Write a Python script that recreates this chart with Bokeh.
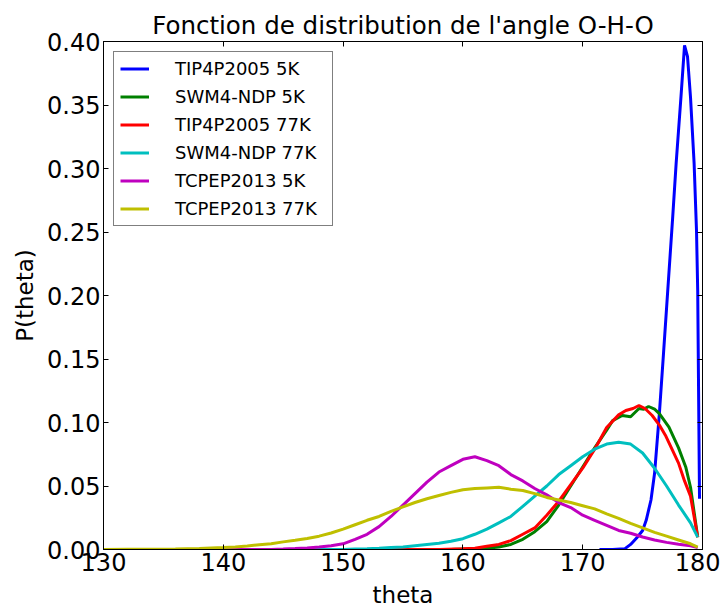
from bokeh.plotting import figure
from bokeh.models import (Legend, LegendItem, LinearAxis, FixedTicker, Range1d,
                          PrintfTickFormatter, CustomJSTickFormatter)
from bokeh.embed import file_html
from bokeh.resources import INLINE

# ---------------- data ----------------
theta_tip_5 = [171.4, 172.5, 173.5, 174.0, 174.5, 175.0, 175.3, 175.7, 176.0, 176.4,
               176.75, 177.1, 177.5, 177.8, 178.2, 178.5, 178.75, 179.0, 179.3, 179.5,
               179.6, 179.75]
p_tip_5 = [0.0, 0.0, 0.0005, 0.004, 0.009, 0.015, 0.023, 0.039, 0.060, 0.107,
           0.155, 0.204, 0.260, 0.304, 0.356, 0.397, 0.388, 0.356, 0.304, 0.251,
           0.204, 0.040]

theta_swm_5 = [130, 140, 150, 159, 160, 161, 162, 163, 164, 165, 166, 167, 168, 169, 170,
               171, 172, 172.5, 173.3, 174.0, 174.7, 175.1, 175.5, 176.0, 176.4, 177.2,
               178.0, 178.6, 179.0, 179.6]
p_swm_5 = [0.0, 0.0, 0.0, 0.0, 0.0003, 0.0006, 0.001, 0.002, 0.004, 0.008, 0.014, 0.022,
           0.035, 0.050, 0.065, 0.080, 0.094, 0.1015, 0.1055, 0.1045, 0.111, 0.1105,
           0.1126, 0.1105, 0.107, 0.0963, 0.080, 0.065, 0.049, 0.0097]

theta_tip_77 = [130, 140, 150, 158, 160, 161, 162, 163, 164, 165, 166, 167, 168, 169, 170,
                171, 172, 173, 173.6, 174.2, 174.7, 175.2, 175.8, 176.4, 176.9, 177.5,
                178.0, 178.5, 179.0, 179.6]
p_tip_77 = [0.0, 0.0, 0.0, 0.0, 0.0005, 0.001, 0.0025, 0.004, 0.007, 0.012, 0.017, 0.027,
            0.038, 0.051, 0.064, 0.079, 0.096, 0.106, 0.1094, 0.111, 0.1134, 0.111,
            0.1055, 0.098, 0.090, 0.078, 0.068, 0.054, 0.042, 0.0097]

theta_swm_77 = [130, 140, 150, 151, 152, 153, 154, 155, 156, 157, 158, 159, 160, 161, 162,
                163, 164, 165, 166, 167, 168, 169, 170, 171, 172, 173, 174, 175, 176, 177,
                178, 179, 179.6]
p_swm_77 = [0.0, 0.0, 0.0, 0.0003, 0.0006, 0.001, 0.0015, 0.002, 0.003, 0.004, 0.005,
            0.0065, 0.0085, 0.012, 0.016, 0.021, 0.026, 0.034, 0.042, 0.050, 0.059, 0.066,
            0.073, 0.079, 0.083, 0.0845, 0.083, 0.076, 0.064, 0.050, 0.035, 0.021, 0.0097]

theta_tcp_5 = [130, 140, 144, 145, 146, 147, 148, 149, 150, 151, 152, 153, 154, 155, 156,
               157, 158, 159, 160, 161, 162, 163, 164, 165, 166, 167, 168, 169, 170, 171,
               172, 173, 174, 175, 176, 177, 178, 179, 179.6]
p_tcp_5 = [0.0, 0.0, 0.0, 0.0003, 0.0007, 0.0012, 0.002, 0.003, 0.0045, 0.008, 0.012,
           0.018, 0.026, 0.035, 0.044, 0.053, 0.061, 0.066, 0.071, 0.073, 0.070, 0.066,
           0.059, 0.054, 0.048, 0.043, 0.037, 0.033, 0.027, 0.023, 0.019, 0.015, 0.0128,
           0.0098, 0.0075, 0.0056, 0.0042, 0.003, 0.0015]

theta_tcp_77 = [130, 132, 134, 136, 138, 140, 141, 142, 143, 144, 145, 146, 147, 148, 149,
                150, 151, 152, 153, 154, 155, 156, 157, 158, 159, 160, 161, 162, 163, 164,
                165, 166, 167, 168, 169, 170, 171, 172, 173, 174, 175, 176, 177, 178, 179,
                179.6]
p_tcp_77 = [0.0, 0.0001, 0.0002, 0.0004, 0.0008, 0.0015, 0.002, 0.0028, 0.0037, 0.0045,
            0.006, 0.0073, 0.0087, 0.0105, 0.013, 0.016, 0.0195, 0.023, 0.026, 0.030,
            0.0335, 0.037, 0.040, 0.0425, 0.045, 0.047, 0.048, 0.0485, 0.049, 0.0475,
            0.0465, 0.044, 0.041, 0.039, 0.037, 0.0345, 0.032, 0.028, 0.0245, 0.0205,
            0.017, 0.0135, 0.0105, 0.0075, 0.0045, 0.0018]

series_names = ["TIP4P2005 5K", "SWM4-NDP 5K", "TIP4P2005 77K",
                "SWM4-NDP 77K", "TCPEP2013 5K", "TCPEP2013 77K"]
series_colors = ["#0000ff", "#008000", "#ff0000", "#00bfbf", "#bf00bf", "#bfbf00"]
series_x = [theta_tip_5, theta_swm_5, theta_tip_77, theta_swm_77, theta_tcp_5, theta_tcp_77]
series_y = [p_tip_5, p_swm_5, p_tip_77, p_swm_77, p_tcp_5, p_tcp_77]

x_ticks = [130, 140, 150, 160, 170, 180]
y_ticks = [0.0, 0.05, 0.10, 0.15, 0.20, 0.25, 0.30, 0.35, 0.40]

title_text = "Fonction de distribution de l'angle O-H-O"
x_label = "theta"
y_label = "P(theta)"

FONT = "DejaVu Sans"

p = figure(width=720, height=600, output_backend="svg", toolbar_location=None,
           x_range=Range1d(130, 180), y_range=Range1d(0, 0.40),
           frame_width=599, frame_height=508,
           min_border_left=103, min_border_right=18, min_border_top=41,
           min_border_bottom=51)
p.title.text = title_text
p.title.align = "center"
p.title.text_font = FONT
p.title.text_font_size = "24.5px"
p.title.text_font_style = "normal"
p.title.text_color = "black"
p.title.standoff = 4

p.xgrid.visible = False
p.ygrid.visible = False
p.outline_line_color = "black"
p.outline_line_width = 1
p.background_fill_color = "white"
p.border_fill_color = "white"

items = []
for name, col, xs, ys in zip(series_names, series_colors, series_x, series_y):
    r = p.line(xs, ys, line_color=col, line_width=3)
    items.append(LegendItem(label=name, renderers=[r]))


def style_axis(ax, labels=True):
    ax.axis_line_color = "black"
    ax.major_tick_line_color = "black"
    ax.major_tick_in = 5
    ax.major_tick_out = 0
    ax.minor_tick_line_color = None
    if labels:
        ax.major_label_text_font = FONT
        ax.major_label_text_font_size = "24px"
        ax.major_label_text_color = "black"
        ax.major_label_standoff = 3
        ax.axis_label_text_font = FONT
        ax.axis_label_text_font_size = "23px"
        ax.axis_label_text_font_style = "normal"
        ax.axis_label_text_color = "black"


xa = p.xaxis[0]
xa.ticker = FixedTicker(ticks=x_ticks)
xa.axis_label = x_label
xa.axis_label_standoff = 8
style_axis(xa)

ya = p.yaxis[0]
ya.ticker = FixedTicker(ticks=y_ticks)
ya.formatter = PrintfTickFormatter(format="%.2f")
ya.axis_label = y_label
ya.axis_label_standoff = 6
style_axis(ya)

blank = CustomJSTickFormatter(code="return ''")
top_ax = LinearAxis(ticker=FixedTicker(ticks=x_ticks), formatter=blank,
                    major_label_standoff=0)
style_axis(top_ax, labels=False)
top_ax.major_label_text_font_size = "1px"
right_ax = LinearAxis(ticker=FixedTicker(ticks=y_ticks), formatter=blank,
                      major_label_standoff=0)
style_axis(right_ax, labels=False)
right_ax.major_label_text_font_size = "1px"
p.add_layout(top_ax, "above")
p.add_layout(right_ax, "right")

legend = Legend(items=items, location="top_left")
legend.label_text_font = FONT
legend.label_text_font_size = "18px"
legend.label_text_color = "black"
legend.label_standoff = 26
legend.label_width = 151
legend.glyph_width = 29
legend.glyph_height = 21
legend.label_height = 21
legend.spacing = 7
legend.padding = 6
legend.margin = 10
legend.border_line_color = "black"
legend.border_line_width = 1
legend.background_fill_alpha = 1
p.add_layout(legend)

open("out.html", "w").write(file_html(p, INLINE))
